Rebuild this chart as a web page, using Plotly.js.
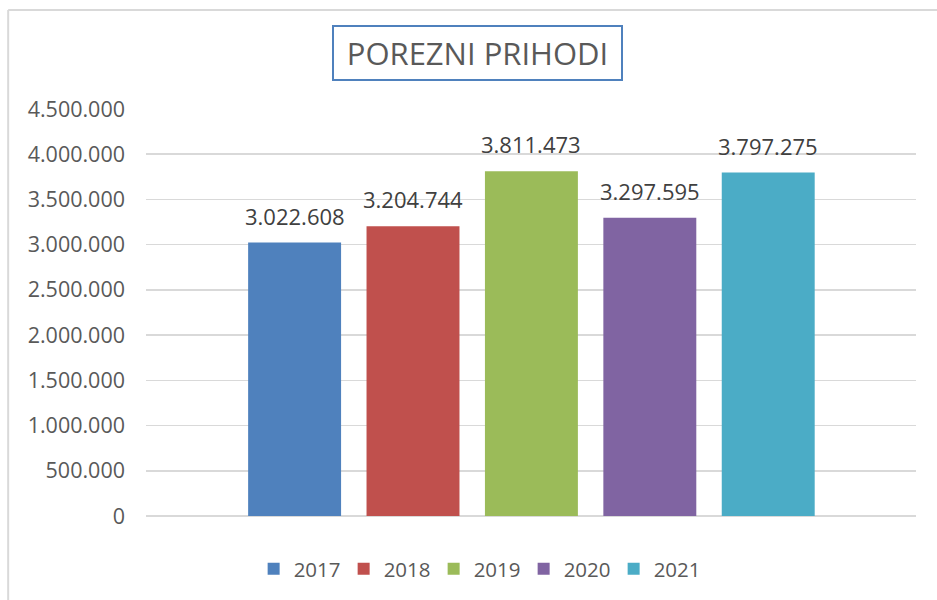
<!DOCTYPE html>
<html>
<head>
<meta charset="utf-8">
<script src="https://cdn.plot.ly/plotly-3.0.1.min.js"></script>
<style>
html,body{margin:0;padding:0;background:#fff;}
#chart{width:937px;height:600px;}
</style>
</head>
<body>
<div id="chart"></div>
<script>
const years = ['2017', '2018', '2019', '2020', '2021'];
const values = [3022608, 3204744, 3811473, 3297595, 3797275];
const colors = ['#4F81BD', '#C0504D', '#9BBB59', '#8064A2', '#4BACC6'];
const titleText = 'POREZNI PRIHODI';

function fmt(v) {
  return String(v).replace(/\B(?=(\d{3})+(?!\d))/g, '.');
}

const traces = years.map((yr, i) => ({
  type: 'bar',
  name: yr,
  x: [yr],
  y: [values[i]],
  marker: {color: colors[i], line: {color: colors[i], width: 0}},
  hoverinfo: 'skip'
}));

// category axis: annotation x uses the category serial number
const annotations = years.map((yr, i) => ({
  x: i,
  y: values[i],
  xref: 'x',
  yref: 'y',
  text: fmt(values[i]),
  showarrow: false,
  yanchor: 'bottom',
  yshift: 10,
  font: {family: 'Open Sans', size: 22, color: '#404040'}
}));

annotations.push({
  xref: 'paper', yref: 'paper',
  x: 0.4305, y: 1.137,
  xanchor: 'center', yanchor: 'middle',
  text: titleText,
  showarrow: false,
  font: {family: 'Open Sans', size: 31, color: '#595959'},
  bordercolor: '#4F81BD',
  borderwidth: 2,
  borderpad: 6,
  width: 275,
  height: 40,
  bgcolor: '#ffffff'
});

const layout = {
  width: 937,
  height: 600,
  margin: {l: 146, r: 21, t: 109, b: 83},
  paper_bgcolor: '#ffffff',
  plot_bgcolor: '#ffffff',
  separators: ',.',
  barmode: 'overlay',
  bargap: 0.215,
  showlegend: true,
  legend: {
    orientation: 'h',
    x: 0.432, xanchor: 'center',
    y: -0.127, yanchor: 'middle',
    entrywidth: 45,
    font: {family: 'Open Sans', size: 20.5, color: '#595959'},
    itemclick: false
  },
  xaxis: {
    type: 'category',
    range: [-1.255, 5.248],
    showticklabels: false,
    showgrid: false,
    zeroline: false,
    showline: false,
    ticks: ''
  },
  yaxis: {
    range: [0, 4500000],
    tickvals: [0, 500000, 1000000, 1500000, 2000000, 2500000, 3000000, 3500000, 4000000, 4500000],
    tickformat: ',d',
    showgrid: true,
    gridcolor: '#d9d9d9',
    gridwidth: 1.5,
    zeroline: true,
    zerolinecolor: '#d9d9d9',
    zerolinewidth: 1.5,
    showline: false,
    ticks: '',
    ticklabelstandoff: 20,
    tickfont: {family: 'Open Sans', size: 21.5, color: '#595959'}
  },
  annotations: annotations,
  shapes: [
    {type: 'line', xref: 'paper', yref: 'paper', x0: -0.179, x1: 1.2, y0: 1.243, y1: 1.243,
     line: {color: '#d9d9d9', width: 2}},
    {type: 'line', xref: 'paper', yref: 'paper', x0: -0.179, x1: -0.179, y0: 1.243, y1: -0.3,
     line: {color: '#d9d9d9', width: 2}}
  ]
};

Plotly.newPlot('chart', traces, layout, {displayModeBar: false, staticPlot: true});
</script>
</body>
</html>
